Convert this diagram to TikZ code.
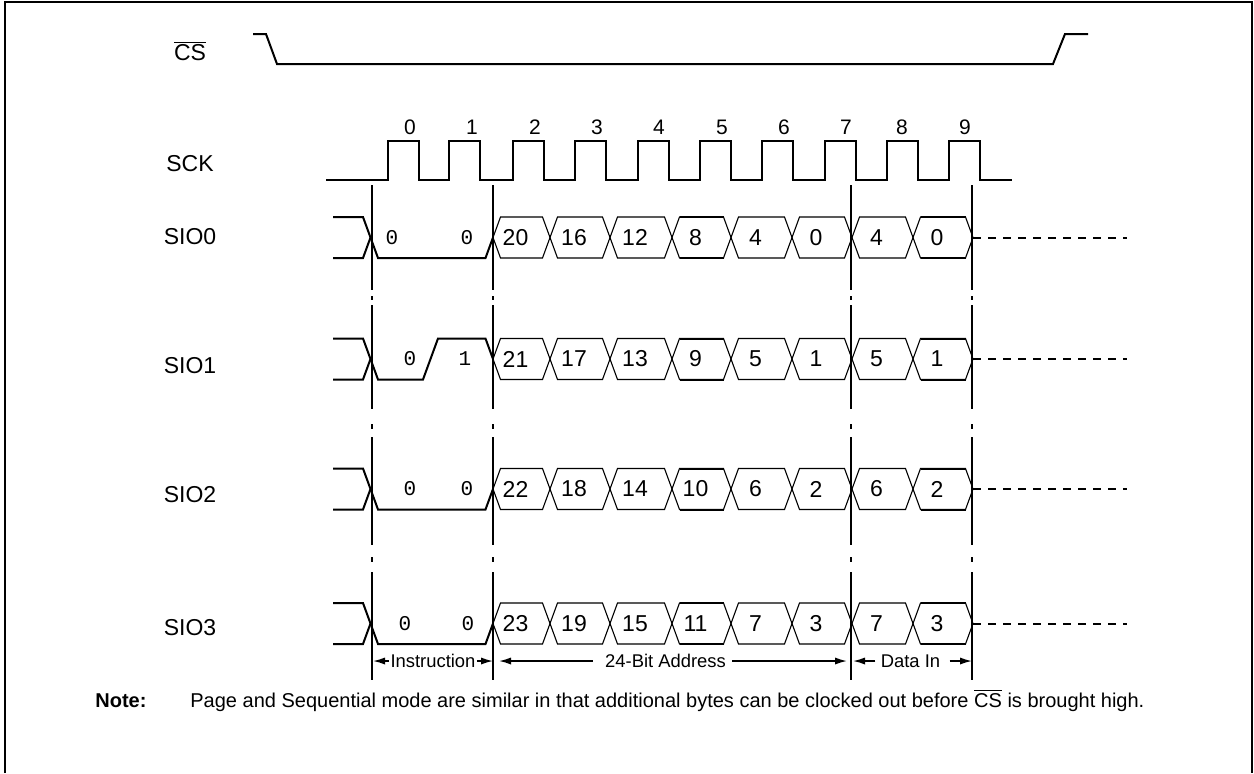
\documentclass[tikz,border=0pt]{standalone}
\usepackage{fontspec}
\setmainfont{Liberation Sans}
\newfontfamily\monofont{Liberation Mono}
\usetikzlibrary{arrows.meta}
\begin{document}
\begin{tikzpicture}[x=0.5pt,y=-0.5pt,
  sig/.style={line width=1pt,line join=miter,line cap=butt},
  vline/.style={line width=1pt},
  hexline/.style={line width=0.55pt},
  hexbold/.style={line width=1pt},
  lbl/.style={inner sep=0pt,font=\fontsize{11.5}{13}\selectfont},
  num/.style={inner sep=0pt,font=\fontsize{11.5}{13}\selectfont},
  clk/.style={inner sep=0pt,font=\fontsize{10.5}{12}\selectfont},
  bit/.style={inner sep=0pt,font=\monofont\fontsize{10.5}{12}\selectfont},
  spanlbl/.style={inner sep=0pt,font=\fontsize{9.2}{11}\selectfont},
  arr/.style={line width=0.8pt,-{Latex[length=6pt,width=3.6pt]}},
  tail/.style={line width=1pt,dash pattern=on 4pt off 3.5pt}]
\useasboundingbox (0,0) rectangle (1254,773);
% frame
\draw[line width=1pt] (5,773) -- (5,2) -- (1252,2) -- (1252,773);
% CS
\node[lbl] (cs) at (190,51) {$\overline{\mbox{CS}}$};
\draw[sig] (253,34) -- (266,34) -- (277,64) -- (1053,64) -- (1065,34) -- (1088,34);
% SCK
\node[lbl] (sck) at (190,164) {SCK};
\draw[sig] (326,180) \foreach \r in {388,449,513,575,638,700,762,825,887,949} { -- (\r,180) -- (\r,141) -- (\r+31,141) -- (\r+31,180) } -- (1012,180);
\foreach \t/\x in {0/410,1/472,2/535,3/597,4/659,5/722,6/784,7/846,8/902,9/965}
  \node[clk] (ck\t) at (\x,127) {\t};
% data rows
\foreach \r/\yc/\ly/\ax/\av/\bx/\bv in {0/237.5/237/392/0/467/0, 1/359/366/410/0/465/1, 2/489/495/410/0/467/0, 3/623.5/628/405/0/468/0} {
  \pgfmathsetmacro\tp{\yc-20.5}
  \pgfmathsetmacro\bt{\yc+20.5}
  \node[lbl] (sio\r) at (190,\ly) {SIO\r};
  \draw[sig] (333,\bt) -- (363,\bt) -- (370.5,\yc);
  \ifnum\r=1
    \draw[sig] (333,\tp) -- (363,\tp) -- (378,\bt) -- (423,\bt) -- (438,\tp) -- (485.5,\tp) -- (493,\yc);
  \else
    \draw[sig] (333,\tp) -- (363,\tp) -- (378,\bt) -- (485.5,\bt) -- (493,\yc);
  \fi
  \node[bit] (ba\r) at (\ax,\yc) {\av};
  \node[bit] (bb\r) at (\bx,\yc) {\bv};
  \foreach \i in {0,...,7} {
    \pgfmathsetmacro\xa{{493,550,610,672,731,792,852,913,973}[\i]}
    \pgfmathsetmacro\xb{{493,550,610,672,731,792,852,913,973}[\i+1]}
    \pgfmathtruncatemacro\v{\i<6 ? (20+\r-4*\i) : (\i==6 ? (4+\r) : \r)}
    \draw[hexline] (\xa,\yc) -- (\xa+7.5,\tp) -- (\xb-7.5,\tp) -- (\xb,\yc) -- (\xb-7.5,\bt) -- (\xa+7.5,\bt) -- cycle;
    \ifnum\i=3
      \draw[hexbold] (\xa+7.5,\tp) -- (\xb-7.5,\tp) (\xa+7.5,\bt) -- (\xb-7.5,\bt);
    \fi
    \ifnum\i=7
      \draw[hexbold] (\xa+7.5,\tp) -- (\xb-7.5,\tp) (\xa+7.5,\bt) -- (\xb-7.5,\bt);
    \fi
    \node[num] (h\r-\i) at ({(\xa+\xb)/2-6},\yc) {\v};
  }
  \draw[tail] (973,\yc) -- (1127,\yc);
}
% vertical phase lines
\foreach \x in {372,493,851,972}
  \foreach \a/\b in {185/290,296/300,305/409,424/429,437/545,557/562,572/680}
    \draw[vline] (\x,\a) -- (\x,\b);
% spans
\coordinate (iL) at (373,661); \coordinate (iR) at (493,661);
\node[spanlbl] (instr) at (433,661) {Instruction};
\draw[arr] ([xshift=-0.5pt]instr.west) -- (iL);
\draw[arr] ([xshift=0.5pt]instr.east) -- (iR);
\coordinate (aL) at (499,661); \coordinate (aR) at (847,661);
\node[spanlbl] (addr) at (665.5,661) {24-Bit Address};
\draw[arr] ([xshift=-6pt]addr.west) -- (aL);
\draw[arr] ([xshift=3pt]addr.east) -- (aR);
\coordinate (dL) at (853,661); \coordinate (dR) at (972,661);
\node[spanlbl] (data) at (910.5,661) {Data In};
\draw[arr] ([xshift=-2.5pt]data.west) -- (dL);
\draw[arr] ([xshift=4.5pt]data.east) -- (dR);
% note
\node[anchor=base west,inner sep=0pt,font=\bfseries\fontsize{10}{12}\selectfont] (note) at (95,707) {Note:};
\node[anchor=base west,inner sep=0pt,font=\fontsize{10}{12}\selectfont] (notetxt) at (190,707) {Page and Sequential mode are similar in that additional bytes can be clocked out before $\overline{\mbox{CS}}$ is brought high.};
\end{tikzpicture}
\end{document}
